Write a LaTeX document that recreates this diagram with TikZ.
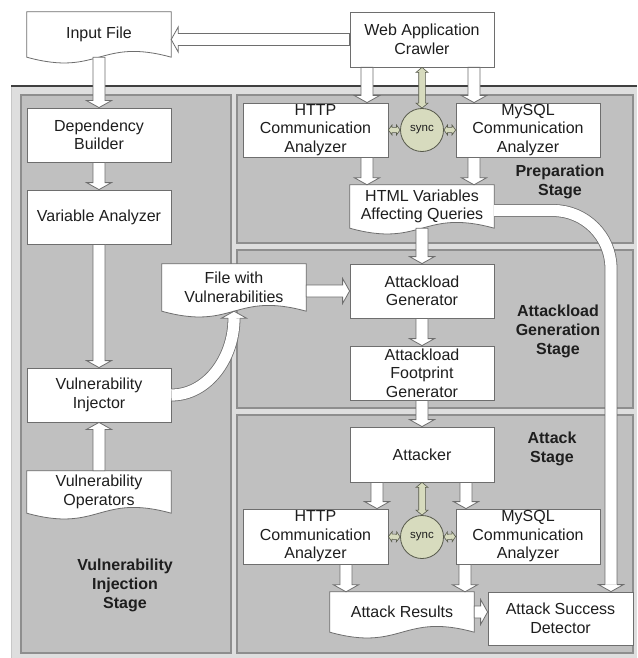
\documentclass[tikz,border=0pt]{standalone}
\usepackage{fontspec}
\setmainfont{Liberation Sans}
\usetikzlibrary{calc}
\pgfdeclarelayer{back}
\pgfdeclarelayer{mid}
\pgfsetlayers{back,mid,main}

\definecolor{panelout}{HTML}{DEDEDE}
\definecolor{panelin}{HTML}{C0C0C0}
\definecolor{panelline}{HTML}{8E8E8E}
\definecolor{boxline}{HTML}{6E6E6E}
\definecolor{syncfill}{HTML}{D7DBBE}
\definecolor{syncline}{HTML}{55584A}
\definecolor{txt}{HTML}{1E1E1E}

\tikzset{
  box/.style={draw=boxline, fill=white, line width=0.8pt, minimum width=144pt,
    minimum height=54pt, inner sep=0pt, align=center, text=txt,
    font=\fontsize{16}{18.5}\selectfont},
  doctext/.style={minimum width=144pt, inner sep=0pt, align=center, text=txt,
    font=\fontsize{16}{18.5}\selectfont},
  stagelabel/.style={align=center, text=txt, inner sep=0pt,
    font=\fontsize{16}{19}\selectfont\bfseries},
  fat/.style={draw=boxline, fill=white, line width=0.8pt, line join=miter},
  fatshaft/.style={draw=boxline, line width=0.8pt, double=white, double distance=11.2pt},
  syncarrowstyle/.style={draw=syncline, fill=syncfill, line width=0.6pt},
  syncnode/.style={circle, draw=syncline, fill=syncfill, line width=0.8pt,
    minimum size=43pt, inner sep=0pt, text=txt, font=\fontsize{11.5}{12}\selectfont},
  panel/.style={fill=panelin, draw=panelline, line width=1.6pt},
}

\def\fasw{6pt}\def\fahw{12.5pt}\def\fahl{7pt}
\def\sasw{3.3pt}\def\sahw{6pt}\def\sahl{5pt}

% straight hollow arrow from #1 to #2
\newcommand\fatarrow[2]{%
  \coordinate (faS) at #1; \coordinate (faE) at #2;
  \coordinate (faH) at ($(faE)!\fahl!(faS)$);
  \path[fat] ($(faS)!\fasw!90:(faE)$) -- ($(faH)!\fasw!90:(faE)$)
    -- ($(faH)!\fahw!90:(faE)$) -- (faE) -- ($(faH)!\fahw!-90:(faE)$)
    -- ($(faH)!\fasw!-90:(faE)$) -- ($(faS)!\fasw!-90:(faE)$) -- cycle;}

% head only, base #1, tip #2
\newcommand\fathead[2]{%
  \coordinate (fhH) at #1; \coordinate (fhT) at #2;
  \path[fill=white] ($(fhH)!\fasw!90:(fhT)$) -- ($(fhH)!\fahw!90:(fhT)$) -- (fhT)
    -- ($(fhH)!\fahw!-90:(fhT)$) -- ($(fhH)!\fasw!-90:(fhT)$) -- cycle;
  \draw[draw=boxline, line width=0.8pt, line join=miter] ($(fhH)!\fasw!90:(fhT)$) -- ($(fhH)!\fahw!90:(fhT)$) -- (fhT)
    -- ($(fhH)!\fahw!-90:(fhT)$) -- ($(fhH)!\fasw!-90:(fhT)$);}

% double-headed sync arrow
\newcommand\syncarrow[2]{%
  \coordinate (saS) at #1; \coordinate (saE) at #2;
  \coordinate (saA) at ($(saS)!\sahl!(saE)$);
  \coordinate (saB) at ($(saE)!\sahl!(saS)$);
  \path[syncarrowstyle] (saS) -- ($(saA)!\sahw!90:(saE)$) -- ($(saA)!\sasw!90:(saE)$)
    -- ($(saB)!\sasw!90:(saE)$) -- ($(saB)!\sahw!90:(saE)$) -- (saE)
    -- ($(saB)!\sahw!-90:(saE)$) -- ($(saB)!\sasw!-90:(saE)$)
    -- ($(saA)!\sasw!-90:(saE)$) -- ($(saA)!\sahw!-90:(saE)$) -- cycle;}

% document outline behind a node
\newcommand\docshape[1]{%
  \begin{pgfonlayer}{mid}
  \draw[draw=boxline, fill=white, line width=0.8pt] (#1.south west) -- (#1.north west)
    -- (#1.north east) -- (#1.south east)
    .. controls ($(#1.south)+(0,-20)$) and ($(#1.south)+(0,20)$) .. (#1.south west) -- cycle;
  \end{pgfonlayer}}

\begin{document}
\begin{tikzpicture}[x=1pt,y=-1pt]
\useasboundingbox (0,0) rectangle (637,658);

\begin{pgfonlayer}{back}
  \fill[white] (0,0) rectangle (637,658);
  \fill[panelout] (11,86) rectangle (637,658);
  \draw[black!22, line width=1pt] (11,658) -- (11,86);
  \draw[black!75, line width=1.2pt] (11,86) -- (637,86);
  \draw[panel] (21,95) rectangle (231,653);
  \draw[panel] (237,95) rectangle (633,243);
  \draw[panel] (237,250) rectangle (633,408);
  \draw[panel] (237,415) rectangle (633,653);
\end{pgfonlayer}

% nodes
\node[doctext, minimum height=45pt] (input) at (99,34.5) {Input File};
\docshape{input}
\node[box, minimum height=55pt] (crawler) at (422,39.5) {Web Application\\Crawler};
\node[box] (dep) at (99,135) {Dependency\\Builder};
\node[box] (var) at (99,217) {Variable Analyzer};
\node[box] (inj) at (99,395) {Vulnerability\\Injector};
\node[doctext, minimum height=42pt] (ops) at (99,492) {Vulnerability\\Operators};
\docshape{ops}
\node[doctext, minimum height=47pt] (filev) at (234,287.5) {File with\\Vulnerabilities};
\docshape{filev}

\node[box, minimum width=145pt] (http1) at (315.5,130) {HTTP\\Communication\\Analyzer};
\node[box] (mysql1) at (528,130) {MySQL\\Communication\\Analyzer};
\node[syncnode] (sync1) at (422,130) {sync};
\node[doctext, minimum height=43pt] (html) at (422,206.5) {HTML Variables\\Affecting Queries};
\docshape{html}

\node[box] (agen) at (422,291) {Attackload\\Generator};
\node[box] (afoot) at (422,373) {Attackload\\Footprint\\Generator};
\node[box, minimum height=55pt] (attacker) at (422,454.5) {Attacker};
\node[box, minimum width=145pt, minimum height=55pt] (http2) at (315.5,536.5) {HTTP\\Communication\\Analyzer};
\node[box, minimum height=55pt] (mysql2) at (528,536.5) {MySQL\\Communication\\Analyzer};
\node[syncnode] (sync2) at (422,537) {sync};
\node[doctext, minimum height=40pt] (results) at (402,612) {Attack Results};
\docshape{results}
\node[box, minimum width=145pt, minimum height=53pt] (detector) at (560.5,618.5) {Attack Success\\Detector};

% stage labels
\node[stagelabel] (vstage) at (125,585) {Vulnerability\\Injection\\Stage};
\node[stagelabel] (pstage) at (560,182) {Preparation\\Stage};
\node[stagelabel] (gstage) at (558,331) {Attackload\\Generation\\Stage};
\node[stagelabel] (astage) at (552,449) {Attack\\Stage};

% straight hollow arrows
\fatarrow{(crawler.west)}{(crawler.west -| input.east)}
\fatarrow{(input.south)}{(dep.north)}
\fatarrow{(dep.south)}{(var.north)}
\fatarrow{(var.south)}{(inj.north)}
\fatarrow{(ops.north)}{(inj.south)}
\fatarrow{(agen.west -| filev.east)}{(agen.west)}

\coordinate (c1) at ($(crawler.south)+(-55,0)$);
\coordinate (c2) at ($(crawler.south)+(52,0)$);
\fatarrow{(c1)}{(c1 |- http1.north)}
\fatarrow{(c2)}{(c2 |- mysql1.north)}
\coordinate (c3) at (c1 |- http1.south);
\coordinate (c4) at (c2 |- mysql1.south);
\fatarrow{(c3)}{(c3 |- html.north)}
\fatarrow{(c4)}{(c4 |- html.north)}
\fatarrow{(html.south)}{(agen.north)}
\fatarrow{(agen.south)}{(afoot.north)}
\fatarrow{(afoot.south)}{(attacker.north)}

\coordinate (c5) at ($(attacker.south)+(-45,0)$);
\coordinate (c6) at ($(attacker.south)+(44,0)$);
\fatarrow{(c5)}{(c5 |- http2.north)}
\fatarrow{(c6)}{(c6 |- mysql2.north)}
\coordinate (c7) at ($(http2.south)+(30.5,0)$);
\coordinate (c8) at ($(mysql2.south)+(-63,0)$);
\fatarrow{(c7)}{(c7 |- results.north)}
\fatarrow{(c8)}{(c8 |- results.north)}
\fatarrow{(results.east)}{(results.east -| detector.west)}

% sync arrows (vertical)
\syncarrow{(crawler.south)}{(sync1.north)}
\syncarrow{(attacker.south)}{(sync2.north)}
% sync arrows (horizontal, short)
\def\sasw{2.6pt}\def\sahw{5pt}\def\sahl{3.6pt}
\syncarrow{(http1.east)}{(sync1.west)}
\syncarrow{(sync1.east)}{(mysql1.west)}
\syncarrow{(http2.east)}{(sync2.west)}
\syncarrow{(sync2.east)}{(mysql2.west)}

% curved hollow arrows
\coordinate (fvh) at ($(filev.south)+(0,7)$);
\draw[fatshaft] (inj.east) .. controls +(36,0) and +(0,40) .. (fvh);
\fathead{(fvh)}{(filev.south)}

\coordinate (hs) at ($(html.east)+(0,4)$);
\coordinate (dt) at ($(detector.north)+(50.5,0)$);
\coordinate (dh) at ($(dt)+(0,-7)$);
\draw[fatshaft, rounded corners=58pt] (hs) -| (dh);
\fathead{(dh)}{(dt)}
\end{tikzpicture}
\end{document}
